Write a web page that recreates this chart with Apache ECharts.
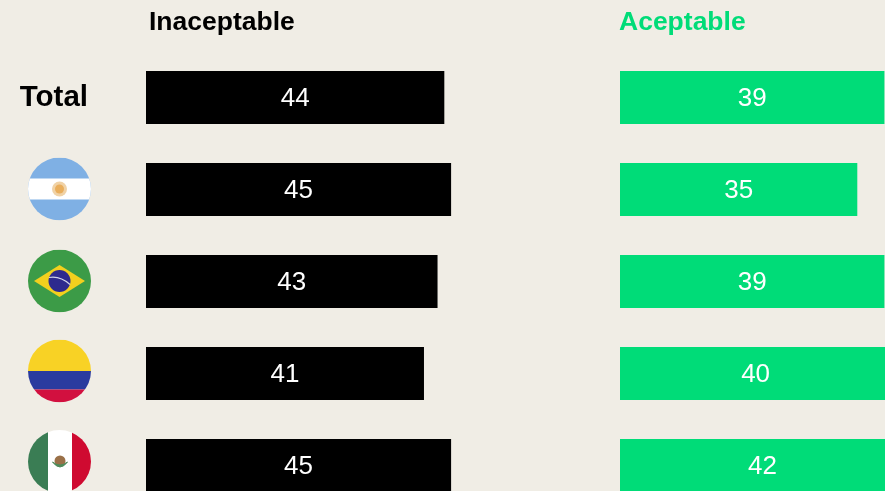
<!DOCTYPE html>
<html>
<head>
<meta charset="utf-8">
<style>
  html, body { margin: 0; padding: 0; background: #f0ede5; overflow: hidden; width: 885px; height: 491px; }
  /* the last row and the green bars run off the picture, so the chart is bigger than the window */
  #main { width: 1000px; height: 560px; filter: blur(0.5px); }
</style>
</head>
<body>
<div id="main"></div>
<script src="https://cdn.jsdelivr.net/npm/echarts@6/dist/echarts.min.js"></script>
<script>
const categories = ['Total', 'Argentina', 'Brasil', 'Colombia', 'México'];
const inaceptable = [44, 45, 43, 41, 45];
const aceptable = [39, 35, 39, 40, 42];

const FONT = 'Liberation Sans';
const GREEN = '#00dc78';

// flags as small inline svg, cut to a circle
function flag(body) {
  const svg = '<svg xmlns="http://www.w3.org/2000/svg" width="126" height="126" viewBox="0 0 63 63">' +
    '<defs><clipPath id="c"><circle cx="31.5" cy="31.5" r="31.5"/></clipPath></defs>' +
    '<g clip-path="url(#c)">' + body + '</g></svg>';
  return 'data:image/svg+xml;charset=utf-8,' + encodeURIComponent(svg);
}

const flags = {
  Argentina: flag(
    '<rect width="63" height="63" fill="#7fb0e4"/>' +
    '<rect y="21" width="63" height="21" fill="#fff"/>' +
    '<circle cx="31.5" cy="31.5" r="7.5" fill="#f0d2a6"/>' +
    '<circle cx="31.5" cy="31.5" r="4.5" fill="#e9ae5c"/>'),
  Brasil: flag(
    '<rect width="63" height="63" fill="#3c9b47"/>' +
    '<polygon points="6,31.5 31.5,15.5 57,31.5 31.5,47.5" fill="#f2d01e"/>' +
    '<circle cx="31.5" cy="31.5" r="11" fill="#2d2a8e"/>' +
    '<path d="M21 28 Q32 26 42 35" stroke="#cfd3e8" stroke-width="1.2" fill="none"/>'),
  Colombia: flag(
    '<rect width="63" height="32" fill="#f8d225"/>' +
    '<rect y="31.5" width="63" height="18.5" fill="#2a3b9f"/>' +
    '<rect y="50" width="63" height="13" fill="#d2103f"/>'),
  'México': flag(
    '<rect width="20" height="63" fill="#3a7d54"/>' +
    '<rect x="20" width="24" height="63" fill="#fff"/>' +
    '<rect x="44" width="19" height="63" fill="#cf0a30"/>' +
    '<circle cx="32" cy="31" r="5.5" fill="#9a7048"/>' +
    '<path d="M24.5 32 Q32 42 39.5 32 Q32 38 24.5 32" fill="#4f8a5b" stroke="#4f8a5b"/>')
};
// the flags sit a little higher than their bars further down the page
const flagShift = { Argentina: -0.5, Brasil: -0.5, Colombia: -2.5, 'México': -4 };

const valueLabel = {
  show: true,
  position: 'inside',
  offset: [0, 1],
  color: '#fff',
  fontFamily: FONT,
  fontSize: 26
};

const chart = echarts.init(document.getElementById('main'));
chart.setOption({
  backgroundColor: '#f0ede5',
  animation: false,
  title: [
    { text: 'Inaceptable', left: 149, top: 9, padding: 0, textStyle: { color: '#000', fontFamily: FONT, fontWeight: 'bold', fontSize: 26.5 } },
    { text: 'Aceptable', left: 619, top: 9, padding: 0, textStyle: { color: GREEN, fontFamily: FONT, fontWeight: 'bold', fontSize: 26.5 } }
  ],
  grid: [
    { left: 146, top: 51.5, width: 339, height: 460 },
    { left: 620, top: 51.5, width: 339, height: 460 }
  ],
  xAxis: [
    { gridIndex: 0, type: 'value', min: 0, max: 50, show: false },
    { gridIndex: 1, type: 'value', min: 0, max: 50, show: false }
  ],
  yAxis: [
    {
      gridIndex: 0, type: 'category', inverse: true, data: categories,
      axisLine: { show: false }, axisTick: { show: false },
      axisLabel: {
        margin: 58, color: '#000', fontFamily: FONT, fontWeight: 'bold', fontSize: 29.5,
        padding: [2, 0, 0, 0],
        formatter: v => (v === 'Total' ? v : '')
      }
    },
    {
      gridIndex: 1, type: 'category', inverse: true, data: categories,
      axisLine: { show: false }, axisTick: { show: false }, axisLabel: { show: false }
    }
  ],
  series: [
    {
      name: 'Inaceptable', type: 'bar', xAxisIndex: 0, yAxisIndex: 0,
      data: inaceptable, barWidth: 53,
      itemStyle: { color: '#000' }, label: valueLabel
    },
    {
      name: 'Aceptable', type: 'bar', xAxisIndex: 1, yAxisIndex: 1,
      data: aceptable, barWidth: 53,
      itemStyle: { color: GREEN }, label: valueLabel
    },
    {
      type: 'custom', xAxisIndex: 0, yAxisIndex: 0, silent: true,
      data: categories.slice(1).map(c => [0, c]),
      encode: { x: 0, y: 1 },
      renderItem(params, api) {
        const name = categories[api.value(1)];
        const p = api.coord([0, name]);
        return {
          type: 'image',
          style: { image: flags[name], x: p[0] - 118, y: p[1] - 31.5 + flagShift[name], width: 63, height: 63 }
        };
      }
    }
  ]
});
</script>
</body>
</html>
